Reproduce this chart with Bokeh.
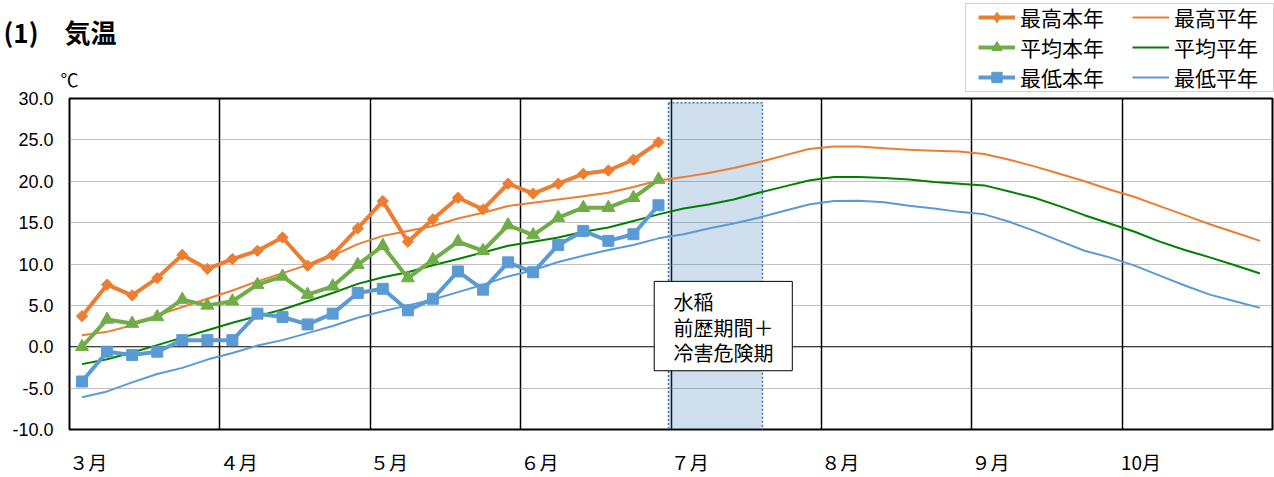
import numpy as np
from bokeh.plotting import figure
from bokeh.models import Legend, LegendItem, Label, Span, FixedTicker, NumeralTickFormatter, Range1d
from bokeh.embed import file_html
from bokeh.resources import INLINE

# ---------------- data ----------------
title_text = "(1)　気温"
unit_text = "℃"
months = ["３月", "４月", "５月", "６月", "７月", "８月", "９月", "10月"]
pentads_per_month = 6

names_this = ["最高本年", "平均本年", "最低本年"]
names_norm = ["最高平年", "平均平年", "最低平年"]

# this year (pentad values, Mar 1st pentad .. Jun 6th pentad)
max_this = [3.7, 7.5, 6.2, 8.3, 11.1, 9.4, 10.6, 11.6, 13.2, 9.8, 11.1, 14.3,
            17.6, 12.7, 15.4, 18.0, 16.6, 19.7, 18.5, 19.7, 20.9, 21.3, 22.6, 24.7]
mean_this = [0.0, 3.3, 2.8, 3.6, 5.7, 5.0, 5.5, 7.5, 8.5, 6.3, 7.3, 9.9,
             12.2, 8.3, 10.5, 12.7, 11.6, 14.7, 13.5, 15.6, 16.8, 16.8, 18.0, 20.2]
min_this = [-4.2, -0.6, -1.0, -0.6, 0.8, 0.8, 0.8, 4.0, 3.6, 2.7, 4.0, 6.5,
            7.0, 4.4, 5.8, 9.1, 6.9, 10.2, 9.0, 12.3, 14.0, 12.8, 13.6, 17.1]

# normal year (pentad values, Mar .. Oct)
max_norm = [1.4, 1.8, 2.6, 3.8, 4.8, 5.8, 6.8, 7.9, 8.9, 9.9, 11.0, 12.4,
            13.4, 14.0, 14.6, 15.5, 16.2, 17.0, 17.4, 17.8, 18.2, 18.6, 19.3, 20.1,
            20.5, 21.0, 21.6, 22.3, 23.1, 23.9, 24.2, 24.2, 24.0, 23.8, 23.7, 23.6,
            23.3, 22.6, 21.8, 20.9, 20.0, 19.0, 18.1, 17.0, 15.9, 14.8, 13.8, 12.8]
mean_norm = [-2.1, -1.5, -0.7, 0.2, 1.1, 2.0, 2.9, 3.7, 4.5, 5.5, 6.5, 7.6,
             8.4, 9.0, 9.85, 10.6, 11.4, 12.2, 12.7, 13.2, 13.9, 14.4, 15.2, 16.0,
             16.7, 17.2, 17.8, 18.6, 19.35, 20.1, 20.5, 20.5, 20.4, 20.2, 19.9, 19.7,
             19.5, 18.75, 18.0, 17.0, 15.9, 14.9, 13.9, 12.7, 11.7, 10.8, 9.85, 8.85]
min_norm = [-6.1, -5.4, -4.3, -3.3, -2.55, -1.55, -0.75, 0.15, 0.8, 1.65, 2.5, 3.5,
            4.3, 5.0, 5.7, 6.6, 7.5, 8.5, 9.25, 10.25, 11.0, 11.7, 12.3, 13.1,
            13.6, 14.3, 14.9, 15.6, 16.4, 17.2, 17.6, 17.65, 17.45, 17.05, 16.7, 16.3,
            16.0, 15.1, 14.0, 12.8, 11.6, 10.8, 9.8, 8.6, 7.4, 6.3, 5.5, 4.7]

period_lines = ["水稲", "前歴期間＋", "冷害危険期"]
period_start = 23.9   # pentad index (start of July)
period_end = 27.65

y_ticks = [-10, -5, 0, 5, 10, 15, 20, 25, 30]

# ---------------- style ----------------
JP = "Noto Sans CJK JP"
C_MAX = "#ED7D31"
C_MEAN = "#70AD47"
C_MEAN_N = "#008000"
C_MIN = "#5B9BD5"
W, H, HEAD_H = 1274, 477, 98

n_months = len(months)
x_max = n_months * pentads_per_month
x_this = np.arange(len(max_this)) + 0.5
x_norm = np.arange(len(max_norm)) + 0.5

# ---------------- main chart ----------------
p = figure(width=W, height=H, output_backend="svg", toolbar_location=None,
           x_range=Range1d(0, x_max), y_range=Range1d(y_ticks[0], y_ticks[-1]),
           min_border_left=69, min_border_right=2, min_border_top=HEAD_H, min_border_bottom=43,
           background_fill_color="white", border_fill_color="white")

xa = p.xaxis[0]
month_ticks = [i * pentads_per_month + 0.75 for i in range(n_months)]
xa.ticker = FixedTicker(ticks=month_ticks)
xa.major_label_overrides = {t: m for t, m in zip(month_ticks, months)}
xa.major_tick_line_color = None
xa.major_tick_out = 0
xa.major_tick_in = 0
xa.minor_tick_line_color = None
xa.axis_line_color = None
xa.major_label_standoff = 18
xa.major_label_text_font = JP
xa.major_label_text_font_size = "19px"
xa.major_label_text_color = "#000000"

ax = p.yaxis[0]
ax.ticker = FixedTicker(ticks=y_ticks)
ax.formatter = NumeralTickFormatter(format="0.0")
ax.major_tick_line_color = None
ax.major_tick_out = 0
ax.major_tick_in = 0
ax.minor_tick_line_color = None
ax.axis_line_color = None
ax.major_label_standoff = 16
ax.major_label_text_font = "Liberation Sans"
ax.major_label_text_font_size = "18px"
ax.major_label_text_color = "#000000"

p.ygrid.ticker = FixedTicker(ticks=[t for t in y_ticks if t not in (y_ticks[0], 0, y_ticks[-1])])
p.ygrid.grid_line_color = "#808080"
p.ygrid.grid_line_dash = "1 1"
p.ygrid.grid_line_width = 1
p.xgrid.ticker = FixedTicker(ticks=[i * pentads_per_month for i in range(1, n_months)])
p.xgrid.grid_line_color = "black"
p.xgrid.grid_line_width = 1.5

p.outline_line_color = "black"
p.outline_line_width = 2

p.add_layout(Span(location=0, dimension="width", line_color="black", line_width=1, level="underlay"))

# shaded period
p.quad(left=[period_start], right=[period_end], bottom=[y_ticks[0] - 1], top=[29.5],
       fill_color="#2E75B6", fill_alpha=0.23, line_color="#41719C", line_width=1.5, line_dash="2 2")

# normal lines
p.line(x_norm, max_norm, line_color=C_MAX, line_width=2)
p.line(x_norm, mean_norm, line_color=C_MEAN_N, line_width=2)
p.line(x_norm, min_norm, line_color=C_MIN, line_width=2)

# this year
p.line(x_this, max_this, line_color=C_MAX, line_width=4)
p.scatter(x_this, max_this, marker="square", angle=np.pi / 4, size=8, color=C_MAX)
p.line(x_this, mean_this, line_color=C_MEAN, line_width=4)
p.scatter(x_this, mean_this, marker="triangle", size=13, color=C_MEAN)
p.line(x_this, min_this, line_color=C_MIN, line_width=4)
p.scatter(x_this, min_this, marker="square", size=11, color=C_MIN)

# text box
p.quad(left=[23.33], right=[28.84], bottom=[-2.9], top=[7.9],
       fill_color="white", line_color="black", line_width=1)
for txt, yy in zip(period_lines, [5.48, 2.38, -0.71]):
    p.add_layout(Label(x=24.1, y=yy, text=txt, text_font=JP, text_font_size="20px",
                       text_baseline="middle", text_align="left", text_color="black"))

# ---------------- header overlay (title, unit, legend) ----------------
t = figure(width=W, height=HEAD_H, output_backend="svg", toolbar_location=None,
           x_range=Range1d(0, W), y_range=Range1d(HEAD_H, 0),
           x_axis_type=None, y_axis_type=None, min_border=0,
           background_fill_alpha=0, border_fill_alpha=0)
t.outline_line_color = None
t.grid.visible = False
t.styles = {"position": "absolute", "top": "0px", "left": "0px", "z-index": "10"}

t.add_layout(Label(x=3, y=31, text=title_text, text_font=JP, text_font_size="26px",
                   text_font_style="bold", text_baseline="middle", text_align="left",
                   text_color="black"))
t.add_layout(Label(x=69, y=78.5, text=unit_text, text_font=JP, text_font_size="18px",
                   text_baseline="middle", text_align="center", text_color="black"))

nan = np.array([np.nan])
d_max_l = t.line(nan, nan, line_color=C_MAX, line_width=4)
d_max_s = t.scatter(nan, nan, marker="diamond", size=8, color=C_MAX)
d_mean_l = t.line(nan, nan, line_color=C_MEAN, line_width=4)
d_mean_s = t.scatter(nan, nan, marker="triangle", size=13, color=C_MEAN)
d_min_l = t.line(nan, nan, line_color=C_MIN, line_width=4)
d_min_s = t.scatter(nan, nan, marker="square", size=11, color=C_MIN)
d_maxn = t.line(nan, nan, line_color=C_MAX, line_width=2)
d_meann = t.line(nan, nan, line_color=C_MEAN_N, line_width=2)
d_minn = t.line(nan, nan, line_color=C_MIN, line_width=2)
d_box = t.line(nan, nan, line_alpha=0)

leg_box = Legend(items=[LegendItem(label=" ", renderers=[d_box])], location=(965, 6),
                 glyph_width=1, glyph_height=87, label_width=306, label_height=87,
                 label_standoff=0, padding=0, margin=0, spacing=0,
                 border_line_color="#A6A6A6", border_line_width=1,
                 background_fill_color="white", background_fill_alpha=1)
common = dict(orientation="vertical", padding=0, margin=0, spacing=0, glyph_width=37,
              glyph_height=26, label_height=29, label_standoff=5, border_line_color=None,
              background_fill_alpha=0, label_text_font=JP, label_text_font_size="21px",
              label_text_color="black")
leg_a = Legend(items=[LegendItem(label=names_this[0], renderers=[d_max_l, d_max_s]),
                      LegendItem(label=names_this[1], renderers=[d_mean_l, d_mean_s]),
                      LegendItem(label=names_this[2], renderers=[d_min_l, d_min_s])],
               location=(978, 6), **common)
leg_b = Legend(items=[LegendItem(label=names_norm[0], renderers=[d_maxn]),
                      LegendItem(label=names_norm[1], renderers=[d_meann]),
                      LegendItem(label=names_norm[2], renderers=[d_minn])],
               location=(1132, 6), **common)
t.add_layout(leg_box, "center")
t.add_layout(leg_a, "center")
t.add_layout(leg_b, "center")

open("out.html", "w").write(file_html([p, t], INLINE))
